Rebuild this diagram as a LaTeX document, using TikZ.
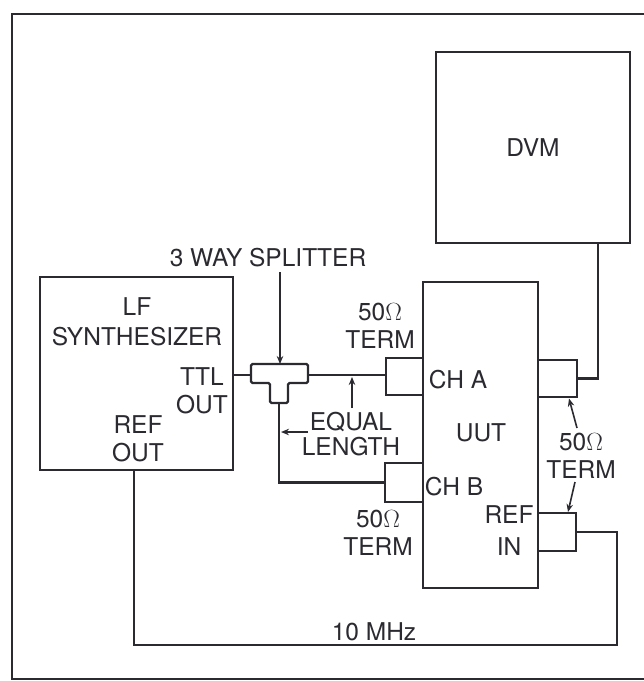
\documentclass[tikz,border=0pt]{standalone}
\usepackage{fontspec}
\setmainfont{TeX Gyre Heros}
\usetikzlibrary{arrows.meta}
\definecolor{ink}{HTML}{2A2A30}
\begin{document}
\begin{tikzpicture}[x=1pt,y=-1pt,
  box/.style={draw=ink, line width=2.2pt, inner sep=0pt, outer sep=0pt, text=ink,
    font=\fontsize{24.5}{28}\selectfont},
  lbl/.style={text=ink, font=\fontsize{24.5}{28}\selectfont, align=center, inner sep=0pt},
  wire/.style={draw=ink, line width=2.2pt},
  pointer/.style={draw=ink, line width=1.6pt, -{Stealth[length=8pt,width=6.5pt]}}
]
\useasboundingbox (0,0) rectangle (644,681);
% outer frame (open on the right)
\draw[wire] (646,14) -- (12,14) -- (12,679) -- (646,679);

% instruments
\node[box, minimum width=194pt, minimum height=191pt] (dvm) at (533,147.5) {DVM};
\node[box, minimum width=193pt, minimum height=193pt] (lf) at (136.5,373.5) {};
\node[box, minimum width=115pt, minimum height=306pt] (uut) at (480.5,435) {};

% terminations
\node[box, minimum width=37pt, minimum height=37pt] (ta) at (404.5,376.5) {};
\node[box, minimum width=38pt, minimum height=39pt] (tb) at (404,482.5) {};
\node[box, minimum width=39pt, minimum height=37pt] (tr) at (557.5,378.5) {};
\node[box, minimum width=38pt, minimum height=38pt] (tref) at (557,532) {};

% labels
\node[lbl] (lfname) at (137,322) {LF\\[2pt]SYNTHESIZER};
\node[lbl] (ttl) at (202,391) {TTL\\OUT};
\node[lbl] (refout) at (138,438.5) {REF\\OUT};
\node[lbl] (spltxt) at (268,258) {3 WAY SPLITTER};
\node[lbl] (terma) at (380,325.5) {50$\Omega$\\TERM};
\node[lbl] (cha) at (458,380) {CH A};
\node[lbl] (uutname) at (481,433) {UUT};
\node[lbl] (chb) at (454,487) {CH B};
\node[lbl] (refin) at (509,531) {REF\\[4pt]IN};
\node[lbl] (eq) at (351,434.5) {EQUAL\\[-3pt]LENGTH};
\node[lbl] (termb) at (378,532.5) {50$\Omega$\\TERM};
\node[lbl] (termr) at (581,456) {50$\Omega$\\TERM};
\node[lbl] (mhz) at (374,632) {10 MHz};

% 3-way splitter
\draw[wire, rounded corners=1.5pt] (251,364) -- (308,364) -- (308,383) -- (288,383)
  -- (288,403) -- (270,403) -- (270,383) -- (251,383) -- cycle;
\coordinate (spin) at (251,375);
\coordinate (spout) at (308,375);
\coordinate (spstem) at (279,403);
\coordinate (sptop) at (280,364);

% connections
\draw[wire] (spin -| lf.east) -- (spin);
\draw[wire] (spout) -- (spout -| ta.west);
\draw[wire] (spstem) |- (tb.west);
\coordinate (dvmin) at (598,243);
\draw[wire] (tr.east) -| (dvmin);
\coordinate (loopcorner) at (617,645);
\coordinate (lfref) at (134,470);
\draw[wire] (tref.east) -| (loopcorner) -| (lfref);

% pointers
\coordinate (splarrow) at (280,272);
\draw[pointer] (splarrow) -- (sptop);
\coordinate (equp) at (352,408);
\coordinate (equptip) at (352,377);
\draw[pointer] (equp) -- (equptip);
\coordinate (eqleft) at (308,432);
\coordinate (eqlefttip) at (281,432);
\draw[pointer] (eqleft) -- (eqlefttip);
\coordinate (tr1) at (577,428);
\coordinate (tr1tip) at (569,398.5);
\draw[pointer] (tr1) -- (tr1tip);
\coordinate (tr2) at (575,482);
\coordinate (tr2tip) at (568,512);
\draw[pointer] (tr2) -- (tr2tip);
\end{tikzpicture}
\end{document}
